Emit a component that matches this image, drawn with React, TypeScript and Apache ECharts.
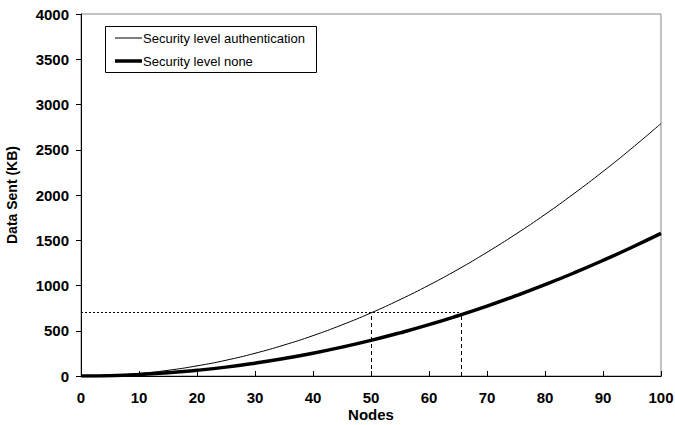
import React, { useEffect, useRef } from "react";
import * as echarts from "echarts";

const nodes = [0, 5, 10, 15, 20, 25, 30, 35, 40, 45, 50, 55, 60, 65, 70, 75, 80, 85, 90, 95, 100];
const authValues = [0, 7, 28, 63, 112, 174, 251, 342, 446, 565, 697, 844, 1004, 1178, 1367, 1569, 1785, 2016, 2260, 2518, 2790];
const noneValues = [0, 4, 16, 35, 63, 98, 142, 193, 252, 319, 394, 477, 567, 666, 772, 887, 1009, 1139, 1277, 1423, 1576];
const seriesNames = ["Security level authentication", "Security level none"];
const seriesWidths = [1, 3.5];
// reference guide lines: [x, y] pairs
const guideH = [[0, 700], [65.5, 700]];
const guideV1 = [[50, 0], [50, 700]];
const guideV2 = [[65.5, 0], [65.5, 680]];

const FONT = "Liberation Sans, Arial, sans-serif";

export default function App() {
  const ref = useRef<HTMLDivElement>(null);
  useEffect(() => {
    if (!ref.current) return;
    const chart = echarts.init(ref.current, null, { renderer: "svg" });
    const mk = (a: number[], b: number[], type: any) => [
      { coord: a, lineStyle: { type, color: "#000", width: 1 } },
      { coord: b },
    ];
    const legendX = 105, legendY = 26, legendW = 211, legendH = 46;
    const legendEls: any[] = [
      {
        type: "rect",
        shape: { x: legendX + 0.5, y: legendY + 0.5, width: legendW, height: legendH },
        style: { fill: "#fff", stroke: "#000", lineWidth: 1 },
        z: 100,
      },
    ];
    seriesNames.forEach((n, i) => {
      const cy = legendY + 12 + i * 23;
      legendEls.push({
        type: "line",
        shape: { x1: legendX + 10, y1: cy, x2: legendX + 37, y2: cy },
        style: { stroke: "#000", lineWidth: seriesWidths[i] },
        z: 101,
      });
      legendEls.push({
        type: "text",
        x: legendX + 38,
        y: cy,
        style: { text: n, fill: "#000", fontSize: 13, fontFamily: FONT, verticalAlign: "middle", align: "left" },
        z: 101,
      });
    });
    chart.setOption({
      animation: false,
      textStyle: { fontFamily: FONT },
      grid: {
        left: 81,
        right: 14,
        top: 14,
        bottom: 49,
        show: true,
        borderColor: "#888",
        borderWidth: 1,
        containLabel: false,
        outerBoundsMode: "none",
      },
      graphic: legendEls,
      xAxis: [
        {
          type: "value",
          min: 0,
          max: 100,
          interval: 10,
          name: "Nodes",
          nameLocation: "middle",
          nameGap: 31,
          nameMoveOverlap: false,
          nameTextStyle: { fontWeight: "bold", fontSize: 15, color: "#000", fontFamily: FONT },
          axisLine: { lineStyle: { color: "#000", width: 1 }, onZero: false },
          axisTick: { inside: true, length: 5, lineStyle: { color: "#000" } },
          axisLabel: { fontWeight: "bold", fontSize: 15, color: "#000", margin: 14, fontFamily: FONT },
          splitLine: { show: false },
        },
        {
          type: "value",
          position: "top",
          min: 0,
          max: 100,
          axisLine: { show: true, lineStyle: { color: "#000", width: 1 } },
          axisTick: { show: false },
          axisLabel: { show: false },
          splitLine: { show: false },
        },
      ],
      yAxis: {
        type: "value",
        min: 0,
        max: 4000,
        interval: 500,
        name: "Data Sent (KB)",
        nameLocation: "middle",
        nameGap: 62,
        nameMoveOverlap: false,
        nameTextStyle: { fontWeight: "bold", fontSize: 14, color: "#000", fontFamily: FONT },
        axisLine: { show: true, lineStyle: { color: "#000", width: 1 } },
        axisTick: { show: true, length: 5, lineStyle: { color: "#000" } },
        axisLabel: {
          fontWeight: "bold",
          fontSize: 15,
          color: "#000",
          margin: 12,
          fontFamily: FONT,
          formatter: (v: number) => String(v),
        },
        splitLine: { show: false },
      },
      series: [
        {
          name: seriesNames[0],
          type: "line",
          smooth: true,
          showSymbol: false,
          data: nodes.map((x, i) => [x, authValues[i]]),
          lineStyle: { color: "#000", width: seriesWidths[0] },
          itemStyle: { color: "#000" },
          markLine: {
            silent: true,
            symbol: "none",
            label: { show: false },
            data: [
              mk(guideH[0], guideH[1], [2, 2]),
              mk(guideV1[0], guideV1[1], [4, 3]),
              mk(guideV2[0], guideV2[1], [4, 3]),
            ],
          },
        },
        {
          name: seriesNames[1],
          type: "line",
          smooth: true,
          showSymbol: false,
          data: nodes.map((x, i) => [x, noneValues[i]]),
          lineStyle: { color: "#000", width: seriesWidths[1] },
          itemStyle: { color: "#000" },
        },
      ],
    });
    return () => chart.dispose();
  }, []);
  return <div ref={ref} style={{ width: 675, height: 425, position: "absolute", left: 0, top: 0 }} />;
}
